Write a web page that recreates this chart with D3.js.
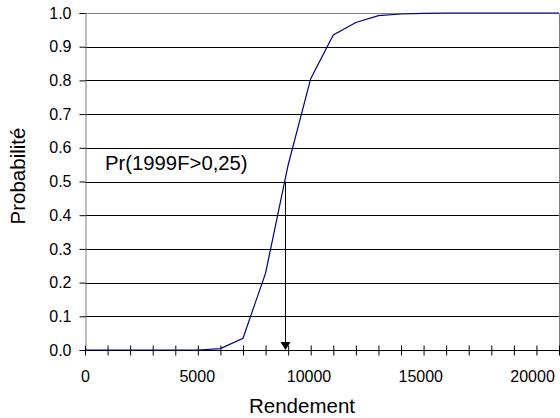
<!DOCTYPE html>
<html><head><meta charset="utf-8">
<script src="https://cdn.jsdelivr.net/npm/d3@7"></script>
<style>body{margin:0;background:#fff}svg{display:block}text{font-family:"Liberation Sans",Arial,sans-serif;fill:#000}</style>
</head><body><svg id="c" width="560" height="418"></svg>
<script>
const rendement = [0,1000,2000,3000,4000,5000,6000,7000,8000,9000,10000,11000,12000,13000,14000,15000,16000,17000,18000,19000,20000,21000];
const probabilite = [0,0,0,0,0,0,0.004,0.035,0.228,0.549,0.805,0.935,0.972,0.992,0.997,0.999,1,1,1,1,1,1];
const xTickLabels = [0,5000,10000,15000,20000];
const yTickLabels = [0,0.1,0.2,0.3,0.4,0.5,0.6,0.7,0.8,0.9,1.0];
const annotX = 8880, annotY = 0.5;
const annotText = "Pr(1999F>0,25)";

const svg = d3.select("#c");
const L=85, R=559, T=13, B=350;
const x = d3.scaleLinear().domain([0,21000]).range([L,R]);
const y = d3.scaleLinear().domain([0,1]).range([B,T]);

// gridlines
svg.append("g").selectAll("line").data(yTickLabels.filter(v=>v>0&&v<1)).join("line")
  .attr("x1",L).attr("x2",R).attr("y1",d=>Math.round(y(d))+0.5).attr("y2",d=>Math.round(y(d))+0.5)
  .attr("stroke","#000").attr("stroke-width",1);
// frame top/right
svg.append("path").attr("d",`M${L},${Math.round(T)+0.5}H${R+0.5}V${B}`).attr("fill","none").attr("stroke","#808080");

// y axis
const ya = svg.append("g").attr("transform",`translate(${L+0.5},0)`)
  .call(d3.axisLeft(y).tickValues(yTickLabels).tickFormat(d3.format(".1f")).tickSize(6).tickPadding(8));
ya.select(".domain").attr("stroke","#808080");
ya.selectAll(".tick line").attr("stroke","#000");
ya.selectAll("text").style("font-size","16px").attr("font-family",null).attr("fill","#000");

// x axis
const xa = svg.append("g").attr("transform",`translate(0,${B+0.5})`)
  .call(d3.axisBottom(x).tickValues(d3.range(0,21001,1000)).tickFormat(d=>xTickLabels.includes(d)?d:"").tickSize(5).tickPadding(15));
xa.select(".domain").attr("stroke","#000").attr("d",`M${L},0H${R}`);
xa.selectAll(".tick line").attr("y1",-5).attr("stroke","#000");
xa.selectAll("text").style("font-size","16px").attr("font-family",null).attr("fill","#000")
  .attr("dx",d=>-d/5000*1.1);

// curve
svg.append("path").datum(rendement.map((r,i)=>[r,probabilite[i]]))
  .attr("d",d3.line().x(d=>x(d[0])).y(d=>y(d[1])))
  .attr("fill","none").attr("stroke","#000080").attr("stroke-width",1.2);

// arrow
const ax = Math.round(x(annotX))+0.5;
svg.append("line").attr("x1",ax).attr("x2",ax).attr("y1",y(annotY)).attr("y2",B-7).attr("stroke","#000");
svg.append("path").attr("d",`M${ax-5},${B-8}L${ax+5},${B-8}L${ax},${B}Z`).attr("fill","#000");

// annotation
svg.append("text").attr("x",105).attr("y",170).style("font-size","20.3px").text(annotText);

// axis titles
svg.append("text").attr("x",302).attr("y",413).attr("text-anchor","middle").style("font-size","20.5px").text("Rendement");
svg.append("text").attr("transform","translate(25,176) rotate(-90)").attr("text-anchor","middle").style("font-size","20.5px").text("Probabilité");
</script></body></html>
